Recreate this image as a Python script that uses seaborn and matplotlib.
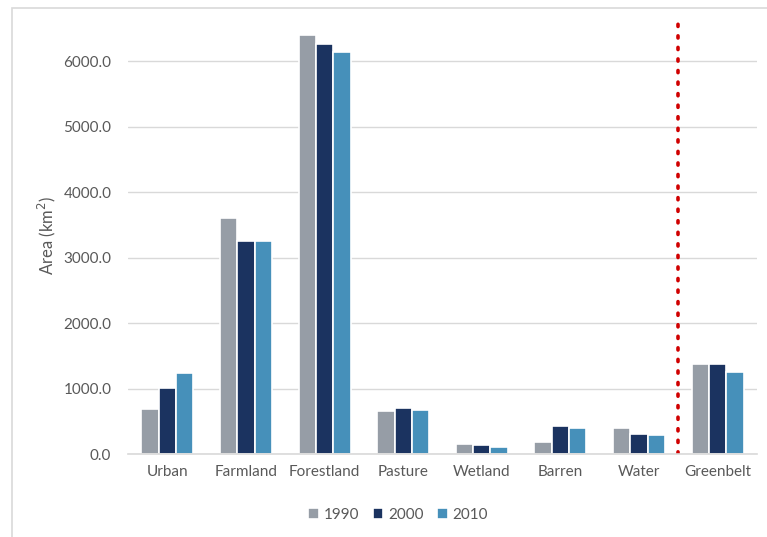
import matplotlib
matplotlib.use("Agg")
import pandas as pd
import seaborn as sns
from matplotlib import pyplot as plt
from matplotlib.patches import Rectangle

# land cover area per class (km2)
categories = ["Urban", "Farmland", "Forestland", "Pasture", "Wetland",
              "Barren", "Water", "Greenbelt"]
years = ["1990", "2000", "2010"]
area_1990 = [688, 3600, 6400, 662, 147, 188, 391, 1373]
area_2000 = [1003, 3255, 6262, 702, 132, 431, 305, 1373]
area_2010 = [1232, 3255, 6140, 676, 107, 401, 290, 1246]
y_ticks = [0, 1000, 2000, 3000, 4000, 5000, 6000]

colors = ["#969DA6", "#1B3360", "#4690BA"]
text_color = "#595959"
grid_color = "#D9D9D9"

df = pd.DataFrame({
    "category": categories * 3,
    "year": [y for y in years for _ in categories],
    "area": area_1990 + area_2000 + area_2010,
})

sns.set_style("white")
plt.rcParams["font.family"] = ["Lato", "DejaVu Sans"]

fig = plt.figure(figsize=(7.67, 5.37), dpi=100)
ax = fig.add_axes([128 / 767, 1 - 454 / 537, (757 - 128) / 767, (454 - 17) / 537])

sns.barplot(data=df, x="category", y="area", hue="year", order=categories,
            hue_order=years, palette=colors, width=0.66, ax=ax,
            edgecolor="white", linewidth=1.2, saturation=1)

ax.set_ylim(0, 6680)
ax.set_xlim(-0.5, len(categories) - 0.5)
ax.set_yticks(y_ticks)
ax.set_yticklabels([f"{v:.1f}" for v in y_ticks])
ax.yaxis.grid(True, color=grid_color, linewidth=1)
ax.set_axisbelow(True)
for side in ["top", "right", "left"]:
    ax.spines[side].set_visible(False)
ax.spines["bottom"].set_color(grid_color)
ax.spines["bottom"].set_linewidth(1.2)
ax.tick_params(axis="y", length=0, pad=12, labelsize=11, labelcolor=text_color)
ax.tick_params(axis="x", length=0, pad=8, labelsize=11, labelcolor=text_color)
ax.set_xlabel("")
ax.set_ylabel("Area (km$^2$)", fontsize=12, color=text_color, labelpad=4)

# separator before the greenbelt group
ax.axvline(len(categories) - 1.5, color="#D00000", linestyle=(0, (0.6, 2.6)),
           linewidth=2.6, dash_capstyle="round")

ax.legend(handles=ax.get_legend_handles_labels()[0], labels=years,
          loc="center", bbox_to_anchor=(398 / 767, 1 - 515 / 537),
          bbox_transform=fig.transFigure, ncol=3, frameon=False,
          fontsize=11, labelcolor=text_color, handlelength=0.7,
          handleheight=0.7, handletextpad=0.3, columnspacing=0.9)

# chart frame, cut off at the right and bottom like the reference
fig.patches.append(Rectangle((12 / 767, -0.1), 1.2, 1.1 - 8 / 537,
                             transform=fig.transFigure, fill=False,
                             edgecolor=grid_color, linewidth=1.2))

fig.savefig("out.png", dpi=100)
